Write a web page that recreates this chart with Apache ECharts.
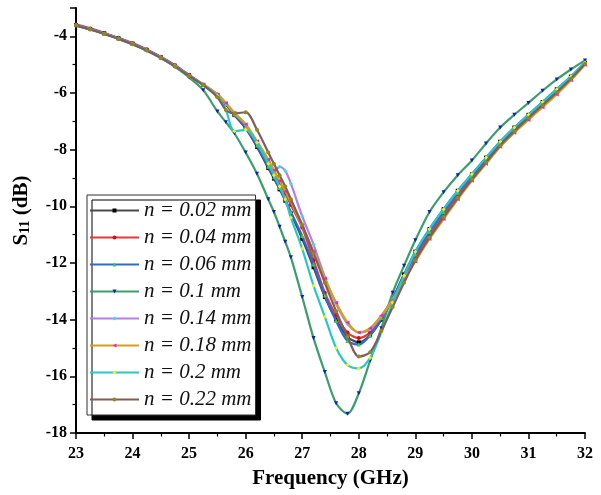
<!DOCTYPE html>
<html><head><meta charset="utf-8">
<script src="https://cdn.jsdelivr.net/npm/echarts@6/dist/echarts.min.js"></script>
<style>html,body{margin:0;padding:0;background:#fff}#c{width:601px;height:495px}</style>
</head><body><div id="c"></div>
<script>
// Frequency samples (GHz)
const freq = [23,23.25,23.5,23.75,24,24.25,24.5,24.75,25,25.25,25.5,25.65,25.8,26,26.2,26.4,26.5,26.6,26.7,26.8,27,27.2,27.4,27.6,27.8,28,28.2,28.4,28.6,28.8,29,29.25,29.5,29.75,30,30.25,30.5,30.75,31,31.25,31.5,31.75,32];

// S11 (dB) per gap width n
const n002 = [-3.60,-3.74,-3.90,-4.07,-4.26,-4.48,-4.74,-5.04,-5.38,-5.72,-6.08,-6.40,-6.78,-7.25,-7.90,-8.65,-9.02,-9.40,-9.80,-10.25,-11.15,-12.15,-13.20,-14.00,-14.60,-14.80,-14.55,-14.00,-13.25,-12.40,-11.60,-10.80,-10.10,-9.45,-8.87,-8.28,-7.72,-7.22,-6.77,-6.32,-5.87,-5.42,-4.93];
const n004 = [-3.58,-3.72,-3.88,-4.05,-4.24,-4.46,-4.72,-5.02,-5.36,-5.70,-6.05,-6.38,-6.74,-7.18,-7.80,-8.50,-8.83,-9.17,-9.55,-9.95,-10.75,-11.90,-13.05,-13.85,-14.45,-14.65,-14.45,-13.90,-13.25,-12.50,-11.80,-11.02,-10.30,-9.62,-9.00,-8.40,-7.82,-7.32,-6.86,-6.40,-5.95,-5.48,-4.95];
const n006 = [-3.60,-3.74,-3.90,-4.07,-4.26,-4.48,-4.74,-5.04,-5.38,-5.72,-6.08,-6.40,-6.76,-7.20,-7.85,-8.60,-8.97,-9.35,-9.75,-10.20,-11.05,-12.05,-13.15,-14.05,-14.75,-14.88,-14.55,-13.95,-13.25,-12.45,-11.70,-10.90,-10.20,-9.52,-8.92,-8.32,-7.76,-7.26,-6.80,-6.35,-5.90,-5.45,-4.93];
const n010 = [-3.61,-3.75,-3.91,-4.08,-4.28,-4.50,-4.77,-5.08,-5.45,-5.90,-6.65,-7.03,-7.42,-8.10,-8.85,-9.75,-10.20,-10.72,-11.25,-11.80,-13.20,-14.65,-15.85,-16.95,-17.32,-16.60,-15.45,-14.30,-13.05,-12.10,-11.20,-10.20,-9.50,-8.90,-8.38,-7.78,-7.22,-6.77,-6.35,-5.92,-5.52,-5.17,-4.85];
const n014 = [-3.61,-3.75,-3.91,-4.08,-4.27,-4.49,-4.75,-5.05,-5.39,-5.70,-6.05,-6.36,-6.72,-7.12,-7.75,-8.45,-8.80,-8.60,-8.75,-9.20,-10.35,-11.35,-12.50,-13.45,-14.15,-14.45,-14.35,-13.88,-13.28,-12.58,-11.90,-11.12,-10.40,-9.70,-9.06,-8.46,-7.88,-7.38,-6.90,-6.45,-6.00,-5.52,-4.98];
const n018 = [-3.62,-3.76,-3.92,-4.09,-4.28,-4.50,-4.76,-5.06,-5.40,-5.70,-6.05,-6.35,-6.70,-7.10,-7.70,-8.35,-8.72,-9.10,-9.47,-9.85,-10.70,-11.60,-12.55,-13.40,-14.10,-14.45,-14.30,-13.85,-13.30,-12.60,-11.95,-11.15,-10.45,-9.75,-9.10,-8.50,-7.90,-7.40,-6.95,-6.50,-6.05,-5.55,-5.00];
const n020 = [-3.61,-3.75,-3.91,-4.08,-4.27,-4.49,-4.75,-5.05,-5.39,-5.72,-6.10,-6.60,-7.35,-7.30,-7.75,-8.50,-8.90,-9.30,-9.75,-10.40,-11.50,-12.80,-13.90,-15.00,-15.60,-15.72,-15.35,-14.45,-13.40,-12.45,-11.60,-10.80,-10.10,-9.45,-8.86,-8.28,-7.72,-7.22,-6.77,-6.32,-5.87,-5.42,-4.92];
const n022 = [-3.62,-3.76,-3.92,-4.09,-4.28,-4.50,-4.76,-5.06,-5.40,-5.72,-6.15,-6.60,-6.72,-6.68,-7.30,-8.10,-8.50,-8.90,-9.30,-9.75,-10.65,-11.65,-12.70,-13.70,-14.60,-15.30,-15.15,-14.40,-13.55,-12.70,-11.90,-11.10,-10.38,-9.70,-9.05,-8.45,-7.85,-7.35,-6.88,-6.43,-5.98,-5.50,-4.97];

const names = ['n = 0.02 mm','n = 0.04 mm','n = 0.06 mm','n = 0.1 mm','n = 0.14 mm','n = 0.18 mm','n = 0.2 mm','n = 0.22 mm'];
const seriesVals = [n002,n004,n006,n010,n014,n018,n020,n022];
const lineColors = ['#4a4a4a','#e23b3b','#2d6ad6','#3c9d6c','#b47fe6','#d1a01c','#2ac6c8','#7d5e5a'];
const markColors = ['#000000','#d01010','#3ad03a','#1020b0','#30e0f0','#f020d0','#f0f020','#8a8a20'];
const symbols = ['rect','circle','triangle','triangle','diamond','triangle','diamond','circle'];
const rotates = [0,0,0,180,0,90,0,0];

const font = 'Liberation Serif';
const chart = echarts.init(document.getElementById('c'), null, {renderer:'canvas'});

const series = seriesVals.map((vals, i) => ({
  name: names[i], type: 'line',
  data: freq.map((f, j) => [f, vals[j]]),
  smooth: 0.3,
  symbol: symbols[i], symbolSize: 4, symbolRotate: rotates[i], showSymbol: true,
  lineStyle: {color: lineColors[i], width: 2.2},
  itemStyle: {color: markColors[i]},
  z: 2 + i
}));

chart.setOption({
  animation: false,
  backgroundColor: '#fff',
  grid: {left: 76, right: 16, top: 8, bottom: 62, containLabel: false},
  legend: {
    orient: 'vertical', left: 87, top: 195,
    padding: [5, 4, 5, 2],
    itemWidth: 49, itemHeight: 5, itemGap: 6,
    backgroundColor: '#fff', borderColor: '#333', borderWidth: 1,
    shadowColor: '#000', shadowOffsetX: 5, shadowOffsetY: 5, shadowBlur: 0,
    textStyle: {fontFamily: font, fontStyle: 'italic', fontSize: 21, color: '#111'},
    data: names
  },
  xAxis: {
    type: 'value', min: 23, max: 32, interval: 1,
    name: 'Frequency (GHz)', nameLocation: 'middle', nameGap: 35,
    nameTextStyle: {fontFamily: font, fontWeight: 'bold', fontSize: 21, color: '#000'},
    axisLine: {onZero: false, lineStyle: {color: '#000', width: 2}},
    axisTick: {show: true, inside: false, length: 6, lineStyle: {color: '#000', width: 1.5}},
    minorTick: {show: true, splitNumber: 2, length: 3.5, lineStyle: {color: '#000', width: 1.2}},
    splitLine: {show: false},
    axisLabel: {fontFamily: font, fontWeight: 'bold', fontSize: 16, color: '#000', margin: 13}
  },
  yAxis: {
    type: 'value', min: -18, max: -3, interval: 2,
    name: '{a|S}{b|11}{a| (dB)}', nameLocation: 'middle', nameGap: 44,
    nameTextStyle: {
      padding: [0, 0, 0, 20],
      rich: {
        a: {fontFamily: font, fontWeight: 'bold', fontSize: 21, color: '#000', lineHeight: 22, verticalAlign: 'bottom'},
        b: {fontFamily: font, fontWeight: 'bold', fontSize: 14, color: '#000', lineHeight: 14, verticalAlign: 'bottom', padding: [6, 0, 0, 0]}
      }
    },
    axisLine: {onZero: false, lineStyle: {color: '#000', width: 2}},
    axisTick: {show: true, inside: false, length: 6, lineStyle: {color: '#000', width: 1.5}},
    minorTick: {show: true, splitNumber: 2, length: 3.5, lineStyle: {color: '#000', width: 1.2}},
    splitLine: {show: false},
    axisLabel: {fontFamily: font, fontWeight: 'bold', fontSize: 16, color: '#000', margin: 9, showMaxLabel: false}
  },
  series: series
});
</script></body></html>
